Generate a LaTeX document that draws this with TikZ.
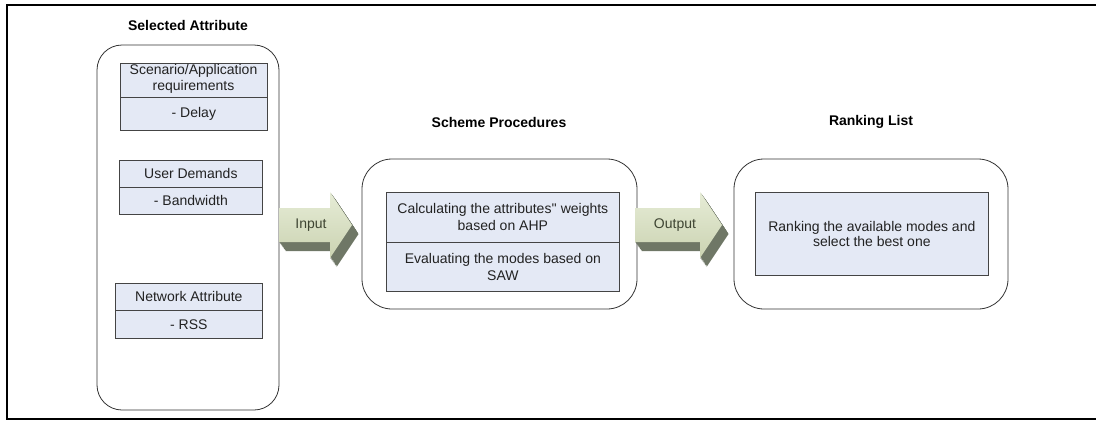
\documentclass[tikz,border=0pt]{standalone}
\usepackage{fontspec}
\setmainfont{Liberation Sans}
\definecolor{cellfill}{HTML}{E4E9F5}
\definecolor{celledge}{HTML}{444444}
\definecolor{textgray}{HTML}{222222}
\definecolor{arrowlight}{HTML}{E6ECD6}
\definecolor{arrowmid}{HTML}{CBD3B2}
\definecolor{arrowdark}{HTML}{6F7766}
\definecolor{labelgreen}{HTML}{3E4432}

% block arrow with a 3D extrusion: #1 = tail x, #2 = head base x, #3 = tip x
\newcommand{\blockarrowshape}[3]{(#1,208) -- (#2,208) -- (#2,192) -- (#3,225) -- (#2,258) -- (#2,242) -- (#1,242) -- cycle}
\newcommand{\drawblockarrow}[3]{%
  \foreach \k in {1,...,10}{
    \fill[arrowdark, shift={(\k*0.65,\k*0.9)}] \blockarrowshape{#1}{#2}{#3};
  }
  \shade[top color=arrowlight, bottom color=arrowmid] \blockarrowshape{#1}{#2}{#3};
}

\tikzset{
  frame/.style={line width=1.2pt, black},
  container/.style={draw=black!80, line width=0.8pt},
  cell/.style={draw=celledge, fill=cellfill, line width=0.7pt, inner sep=0pt,
    anchor=north west, align=center, text=textgray,
    font=\fontsize{14}{17}\selectfont},
  heading/.style={font=\bfseries\fontsize{14}{16}\selectfont, text=black},
  arrowlabel/.style={font=\fontsize{14}{16}\selectfont, text=labelgreen},
}

\begin{document}
\begin{tikzpicture}[x=1pt, y=-1pt]
\useasboundingbox (0,0) rectangle (1096,421);

% page frame
\draw[frame] (1096,5) -- (7,5) -- (7,419) -- (1096,419);

% column headings
\node[heading] (selTitle) at (188,25) {Selected Attribute};
\node[heading] (schTitle) at (499,122) {Scheme Procedures};
\node[heading] (rankTitle) at (871,122) {Ranking List};

% containers
\draw[container, rounded corners=25pt] (97,45) rectangle (279,410);
\draw[container, rounded corners=30pt] (362,159) rectangle (637,309);
\draw[container, rounded corners=30pt] (734,159) rectangle (1008,309);

% selected attributes
\node[cell, minimum width=147pt, minimum height=34pt] (scenHead) at (120,63) {};
\node[align=center, text=textgray, font=\fontsize{14}{16}\selectfont, inner sep=0pt, anchor=north] (scenText) at (193.5,64) {Scenario/Application\\requirements};
\node[cell, minimum width=147pt, minimum height=33pt] (scenItem) at (120,97) {- Delay};

\node[cell, minimum width=143pt, minimum height=27pt] (userHead) at (119,160) {User Demands};
\node[cell, minimum width=143pt, minimum height=27pt] (userItem) at (119,187) {- Bandwidth};

\node[cell, minimum width=147pt, minimum height=27pt] (netHead) at (115,283) {Network Attribute};
\node[cell, minimum width=147pt, minimum height=28pt] (netItem) at (115,310) {- RSS};

% scheme procedures
\node[cell, minimum width=233pt, minimum height=50pt] (ahp) at (386,192) {Calculating the attributes\textquotesingle\textquotesingle{} weights\\based on AHP};
\node[cell, minimum width=233pt, minimum height=49pt] (saw) at (386,242) {Evaluating the modes based on\\SAW};

% ranking list
\node[cell, minimum width=233pt, minimum height=83pt] (rank) at (755,192) {Ranking the available modes and\\[-2pt]select the best one};

% input / output block arrows
\drawblockarrow{279}{330}{352}
\node[arrowlabel] (inLabel) at (311,225) {Input};
\drawblockarrow{635}{700}{722}
\node[arrowlabel] (outLabel) at (675,225) {Output};
\end{tikzpicture}
\end{document}
